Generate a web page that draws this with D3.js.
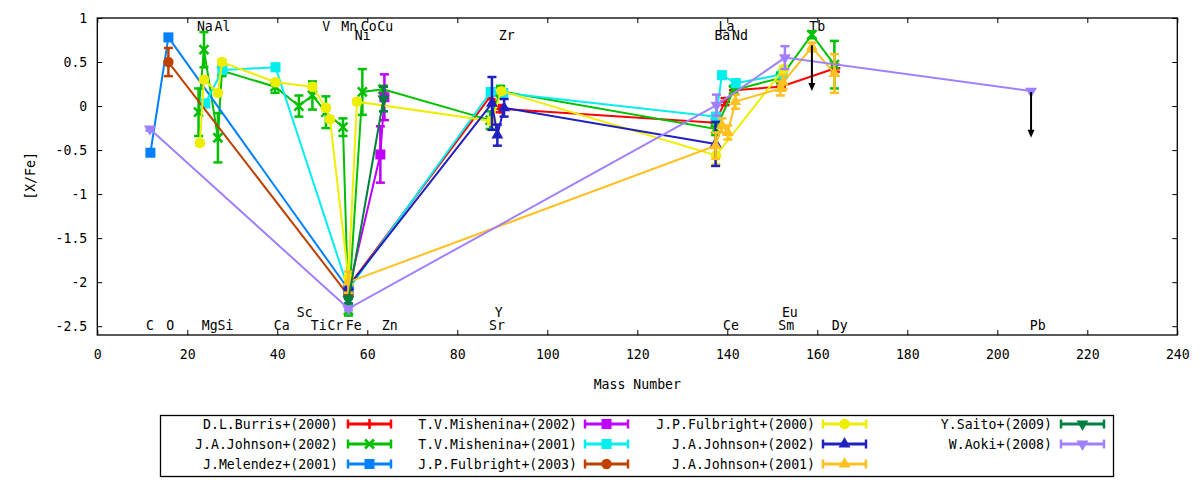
<!DOCTYPE html>
<html>
<head>
<meta charset="utf-8">
<script src="https://cdn.jsdelivr.net/npm/d3@7"></script>
<style>
    body { margin: 0; background: #fff; }
    svg text { font-family: "DejaVu Sans Mono", monospace; font-size: 13.2px; fill: #000; }
</style>
</head>
<body>
<div id="chart"></div>
<script>
// ---- values: mass number, [X/Fe], error ----
const burrisX = [55.8, 87.5, 89.5, 137.3, 139.5, 141.5, 151.9, 164.0];
const burrisY = [-2.05, 0.12, -0.03, -0.19, 0.05, 0.18, 0.22, 0.43];
const burrisErr = [0.04, 0.04, 0.04, 0.04, 0.04, 0.04, 0.04, 0.04];

const johnson02X = [22.5, 23.7, 26.8, 27.7, 39.5, 44.8, 47.8, 50.8, 54.6, 55.8, 58.9, 63.5, 87.3, 89.6, 137.4, 141.4, 151.8, 158.8, 163.8];
const johnson02Y = [-0.07, 0.64, -0.36, 0.40, 0.22, 0.0, 0.12, -0.07, -0.24, -2.32, 0.16, 0.19, -0.16, 0.17, -0.26, 0.18, 0.32, 0.81, 0.47];
const johnson02Err = [0.27, 0.2, 0.28, 0.06, 0.07, 0.12, 0.16, 0.18, 0.1, 0.06, 0.26, 0.04, 0.1, 0.06, 0.07, 0.05, 0.06, 0.04, 0.27];

const melendezX = [11.8, 15.8, 55.8];
const melendezY = [-0.53, 0.78, -2.08];
const melendezErr = [0.02, 0.02, 0.02];

const mishenina02X = [55.8, 62.9, 63.8];
const mishenina02Y = [-2.1, -0.55, 0.1];
const mishenina02Err = [0.04, 0.32, 0.26];

const mishenina01X = [24.0, 27.8, 39.6, 55.8, 87.4, 90.2, 137.5, 138.8, 141.9, 152.3];
const mishenina01Y = [0.03, 0.41, 0.44, -2.08, 0.16, 0.15, -0.12, 0.35, 0.26, 0.36];
const mishenina01Err = [0.04, 0.04, 0.04, 0.04, 0.04, 0.04, 0.04, 0.04, 0.04, 0.04];

const fulbright03X = [15.8, 55.8];
const fulbright03Y = [0.5, -2.15];
const fulbright03Err = [0.16, 0.04];

const fulbright00X = [22.8, 23.7, 26.8, 27.7, 39.6, 47.8, 50.8, 51.7, 55.8, 57.7, 87.6, 89.8, 137.5, 152.5];
const fulbright00Y = [-0.42, 0.3, 0.15, 0.5, 0.27, 0.22, -0.02, -0.15, -1.95, 0.05, -0.17, 0.17, -0.56, 0.42];
const fulbright00Err = [0.03, 0.03, 0.03, 0.03, 0.03, 0.03, 0.03, 0.03, 0.03, 0.03, 0.03, 0.03, 0.1, 0.03];

const johnson02bX = [55.8, 87.7, 88.9, 90.4, 137.4];
const johnson02bY = [-2.05, 0.03, -0.33, -0.02, -0.43];
const johnson02bErr = [0.04, 0.3, 0.12, 0.1, 0.25];

const johnson01X = [55.8, 137.4, 138.8, 140.1, 141.8, 151.8, 152.4, 158.8, 163.8];
const johnson01Y = [-2.0, -0.45, -0.22, -0.3, 0.05, 0.2, 0.27, 0.67, 0.37];
const johnson01Err = [0.12, 0.15, 0.08, 0.08, 0.08, 0.08, 0.08, 0.05, 0.22];

const saitoX = [55.8, 63.6];
const saitoY = [-2.2, 0.08];
const saitoErr = [0.04, 0.14];

const aokiX = [11.7, 55.8, 137.6, 152.8, 207.5];
const aokiY = [-0.26, -2.3, 0.01, 0.55, 0.17];
const aokiErr = [0.02, 0.02, 0.12, 0.13, 0.0];

const seriesNames = [
    "D.L.Burris+(2000)", "J.A.Johnson+(2002)", "J.Melendez+(2001)",
    "T.V.Mishenina+(2002)", "T.V.Mishenina+(2001)", "J.P.Fulbright+(2003)",
    "J.P.Fulbright+(2000)", "J.A.Johnson+(2002)", "J.A.Johnson+(2001)",
    "Y.Saito+(2009)", "W.Aoki+(2008)"
];
const seriesColors = [
    "#ff0000", "#00c000", "#0080ff", "#c000ff", "#00eeee", "#c04000",
    "#eeee00", "#2020c0", "#ffc020", "#008040", "#a080ff"
];
const seriesSymbols = [
    "plus", "cross", "square", "square", "square", "circle",
    "circle", "triangle", "triangle", "down", "down"
];

// upper limits (arrows)
const limitX = [158.8, 207.5];
const limitY = [0.69, 0.16];

// element labels
const elemNames = ["Na", "Al", "V", "Mn", "Co", "Cu", "La", "Tb",
    "Ni", "Zr", "Ba", "Nd",
    "C", "O", "Mg", "Si", "Ca", "Ti", "Cr", "Fe", "Zn", "Sr", "Ce", "Sm", "Dy", "Pb",
    "Sc", "Y", "Eu"];
const elemX = [23.9, 27.8, 50.9, 56.0, 60.3, 64.0, 139.8, 160.0,
    59.0, 91.0, 138.9, 142.8,
    11.7, 16.2, 25.0, 28.5, 41.0, 49.2, 52.9, 57.0, 65.0, 88.8, 140.8, 153.1, 165.0, 209.0,
    46.1, 89.2, 153.9];
const elemY = [0.9, 0.9, 0.9, 0.9, 0.9, 0.9, 0.9, 0.9,
    0.8, 0.8, 0.8, 0.8,
    -2.49, -2.49, -2.49, -2.49, -2.49, -2.49, -2.49, -2.49, -2.49, -2.49, -2.49, -2.49, -2.49, -2.49,
    -2.35, -2.35, -2.35];

const xTickValues = [0, 20, 40, 60, 80, 100, 120, 140, 160, 180, 200, 220, 240];
const yTickValues = [-2.5, -2, -1.5, -1, -0.5, 0, 0.5, 1];

(function () {
    const W = 1200, H = 480;
    const plot = { left: 97.3, right: 1177.3, top: 18, bottom: 335 };

    const x = d3.scaleLinear().domain([0, 240]).range([plot.left, plot.right]);
    const y = d3.scaleLinear().domain([-2.6, 1]).range([plot.bottom, plot.top]);

    const seriesX = [burrisX, johnson02X, melendezX, mishenina02X, mishenina01X, fulbright03X,
        fulbright00X, johnson02bX, johnson01X, saitoX, aokiX];
    const seriesY = [burrisY, johnson02Y, melendezY, mishenina02Y, mishenina01Y, fulbright03Y,
        fulbright00Y, johnson02bY, johnson01Y, saitoY, aokiY];
    const seriesErr = [burrisErr, johnson02Err, melendezErr, mishenina02Err, mishenina01Err, fulbright03Err,
        fulbright00Err, johnson02bErr, johnson01Err, saitoErr, aokiErr];

    const series = seriesNames.map((name, i) => ({
        name,
        color: seriesColors[i],
        symbol: seriesSymbols[i],
        points: seriesX[i].map((m, j) => ({ m, v: seriesY[i][j], e: seriesErr[i][j] }))
    }));

    const svg = d3.select("#chart")
        .append("svg")
        .attr("width", W)
        .attr("height", H);

    svg.append("rect").attr("width", W).attr("height", H).attr("fill", "#fff");

    // marker shapes, gnuplot style
    function marker(sel, symbol, color) {
        if (symbol === "plus" || symbol === "cross") {
            const p = symbol === "plus" ? "M-5,0H5M0,-5V5" : "M-4.5,-4.5L4.5,4.5M-4.5,4.5L4.5,-4.5";
            sel.append("path").attr("d", p)
                .attr("stroke", color).attr("stroke-width", 2.5).attr("fill", "none");
            return;
        }
        const types = { square: d3.symbolSquare, circle: d3.symbolCircle, triangle: d3.symbolTriangle, down: d3.symbolTriangle };
        const sizes = { square: 100, circle: 85, triangle: 62, down: 62 };
        sel.append("path")
            .attr("d", d3.symbol().type(types[symbol]).size(sizes[symbol])())
            .attr("transform", symbol === "down" ? "rotate(180)" : null)
            .attr("fill", color);
    }

    // axes (ticks inside, mirrored)
    const axisG = svg.append("g");
    axisG.append("g")
        .attr("transform", `translate(0,${plot.bottom})`)
        .call(d3.axisBottom(x).tickValues(xTickValues).tickSizeInner(-5).tickSizeOuter(0).tickPadding(15).tickFormat(d => String(d)));
    axisG.append("g")
        .attr("transform", `translate(0,${plot.top})`)
        .call(d3.axisTop(x).tickValues(xTickValues).tickSizeInner(-5).tickSizeOuter(0).tickFormat(""));
    axisG.append("g")
        .attr("transform", `translate(${plot.left},0)`)
        .call(d3.axisLeft(y).tickValues(yTickValues).tickSizeInner(-5).tickSizeOuter(0).tickPadding(10).tickFormat(d => String(d)));
    axisG.append("g")
        .attr("transform", `translate(${plot.right},0)`)
        .call(d3.axisRight(y).tickValues(yTickValues).tickSizeInner(-5).tickSizeOuter(0).tickFormat(""));
    axisG.selectAll(".domain").remove();
    axisG.selectAll(".tick line").attr("stroke", "#000").attr("stroke-width", 1);
    axisG.selectAll(".tick text").attr("font-family", null).attr("font-size", null);

    svg.append("rect")
        .attr("x", plot.left).attr("y", plot.top)
        .attr("width", plot.right - plot.left).attr("height", plot.bottom - plot.top)
        .attr("fill", "none").attr("stroke", "#000").attr("stroke-width", 1.3);

    // element labels
    svg.append("g").selectAll("text")
        .data(elemNames)
        .enter().append("text")
        .attr("x", (d, i) => x(elemX[i]))
        .attr("y", (d, i) => y(elemY[i]))
        .attr("text-anchor", "middle")
        .attr("dominant-baseline", "central")
        .text(d => d);

    // series: line, error bars, points
    const line = d3.line().x(d => x(d.m)).y(d => y(d.v));
    const plotG = svg.append("g");

    series.forEach(s => {
        const g = plotG.append("g");
        g.append("path")
            .attr("d", line(s.points))
            .attr("fill", "none")
            .attr("stroke", s.color)
            .attr("stroke-width", 2);

        const eb = g.selectAll(".eb")
            .data(s.points.filter(p => p.e > 0))
            .enter().append("g");
        eb.append("line")
            .attr("x1", d => x(d.m)).attr("x2", d => x(d.m))
            .attr("y1", d => y(d.v - d.e)).attr("y2", d => y(d.v + d.e))
            .attr("stroke", s.color).attr("stroke-width", 2.5);
        [-1, 1].forEach(sign => {
            eb.append("line")
                .attr("x1", d => x(d.m) - 4.5).attr("x2", d => x(d.m) + 4.5)
                .attr("y1", d => y(d.v + sign * d.e)).attr("y2", d => y(d.v + sign * d.e))
                .attr("stroke", s.color).attr("stroke-width", 2.5);
        });

        g.selectAll(".pt")
            .data(s.points)
            .enter().append("g")
            .attr("transform", d => `translate(${x(d.m)},${y(d.v)})`)
            .each(function () { marker(d3.select(this), s.symbol, s.color); });
    });

    // upper limit arrows
    const arrowLen = 0.52;
    const arrows = svg.append("g").selectAll("g")
        .data(limitX)
        .enter().append("g");
    arrows.append("line")
        .attr("x1", d => x(d)).attr("x2", d => x(d))
        .attr("y1", (d, i) => y(limitY[i]))
        .attr("y2", (d, i) => y(limitY[i] - arrowLen) - 6)
        .attr("stroke", "#000").attr("stroke-width", 2);
    arrows.append("path")
        .attr("d", (d, i) => {
            const px = x(d), py = y(limitY[i] - arrowLen);
            return `M${px - 3.5},${py - 8}L${px + 3.5},${py - 8}L${px},${py}Z`;
        })
        .attr("fill", "#000");

    // axis titles
    svg.append("text")
        .attr("x", (plot.left + plot.right) / 2)
        .attr("y", 389)
        .attr("text-anchor", "middle")
        .text("Mass Number");
    svg.append("text")
        .attr("transform", "translate(35,176) rotate(-90)")
        .attr("text-anchor", "middle")
        .text("[X/Fe]");

    // legend
    const legend = svg.append("g");
    legend.append("rect")
        .attr("x", 160.5).attr("y", 415.5)
        .attr("width", 953).attr("height", 61)
        .attr("fill", "none").attr("stroke", "#000").attr("stroke-width", 1.3);

    const colText = [338, 577, 815, 1052];
    const colLine = [348, 585, 823, 1061];
    const rowY = [424, 444, 464];
    const sampleLen = 43;

    series.forEach((s, i) => {
        const col = Math.floor(i / 3), row = i % 3;
        const ly = rowY[row];
        const x0 = colLine[col], x1 = x0 + sampleLen;
        const item = legend.append("g");
        item.append("text")
            .attr("x", colText[col]).attr("y", ly)
            .attr("text-anchor", "end")
            .attr("dominant-baseline", "central")
            .text(s.name);
        item.append("line")
            .attr("x1", x0).attr("x2", x1).attr("y1", ly).attr("y2", ly)
            .attr("stroke", s.color).attr("stroke-width", 3);
        [x0, x1].forEach(cx => {
            item.append("line")
                .attr("x1", cx).attr("x2", cx).attr("y1", ly - 4.5).attr("y2", ly + 4.5)
                .attr("stroke", s.color).attr("stroke-width", 2.5);
        });
        const m = item.append("g").attr("transform", `translate(${(x0 + x1) / 2},${ly})`);
        marker(m, s.symbol, s.color);
    });
})();
</script>
</body>
</html>
